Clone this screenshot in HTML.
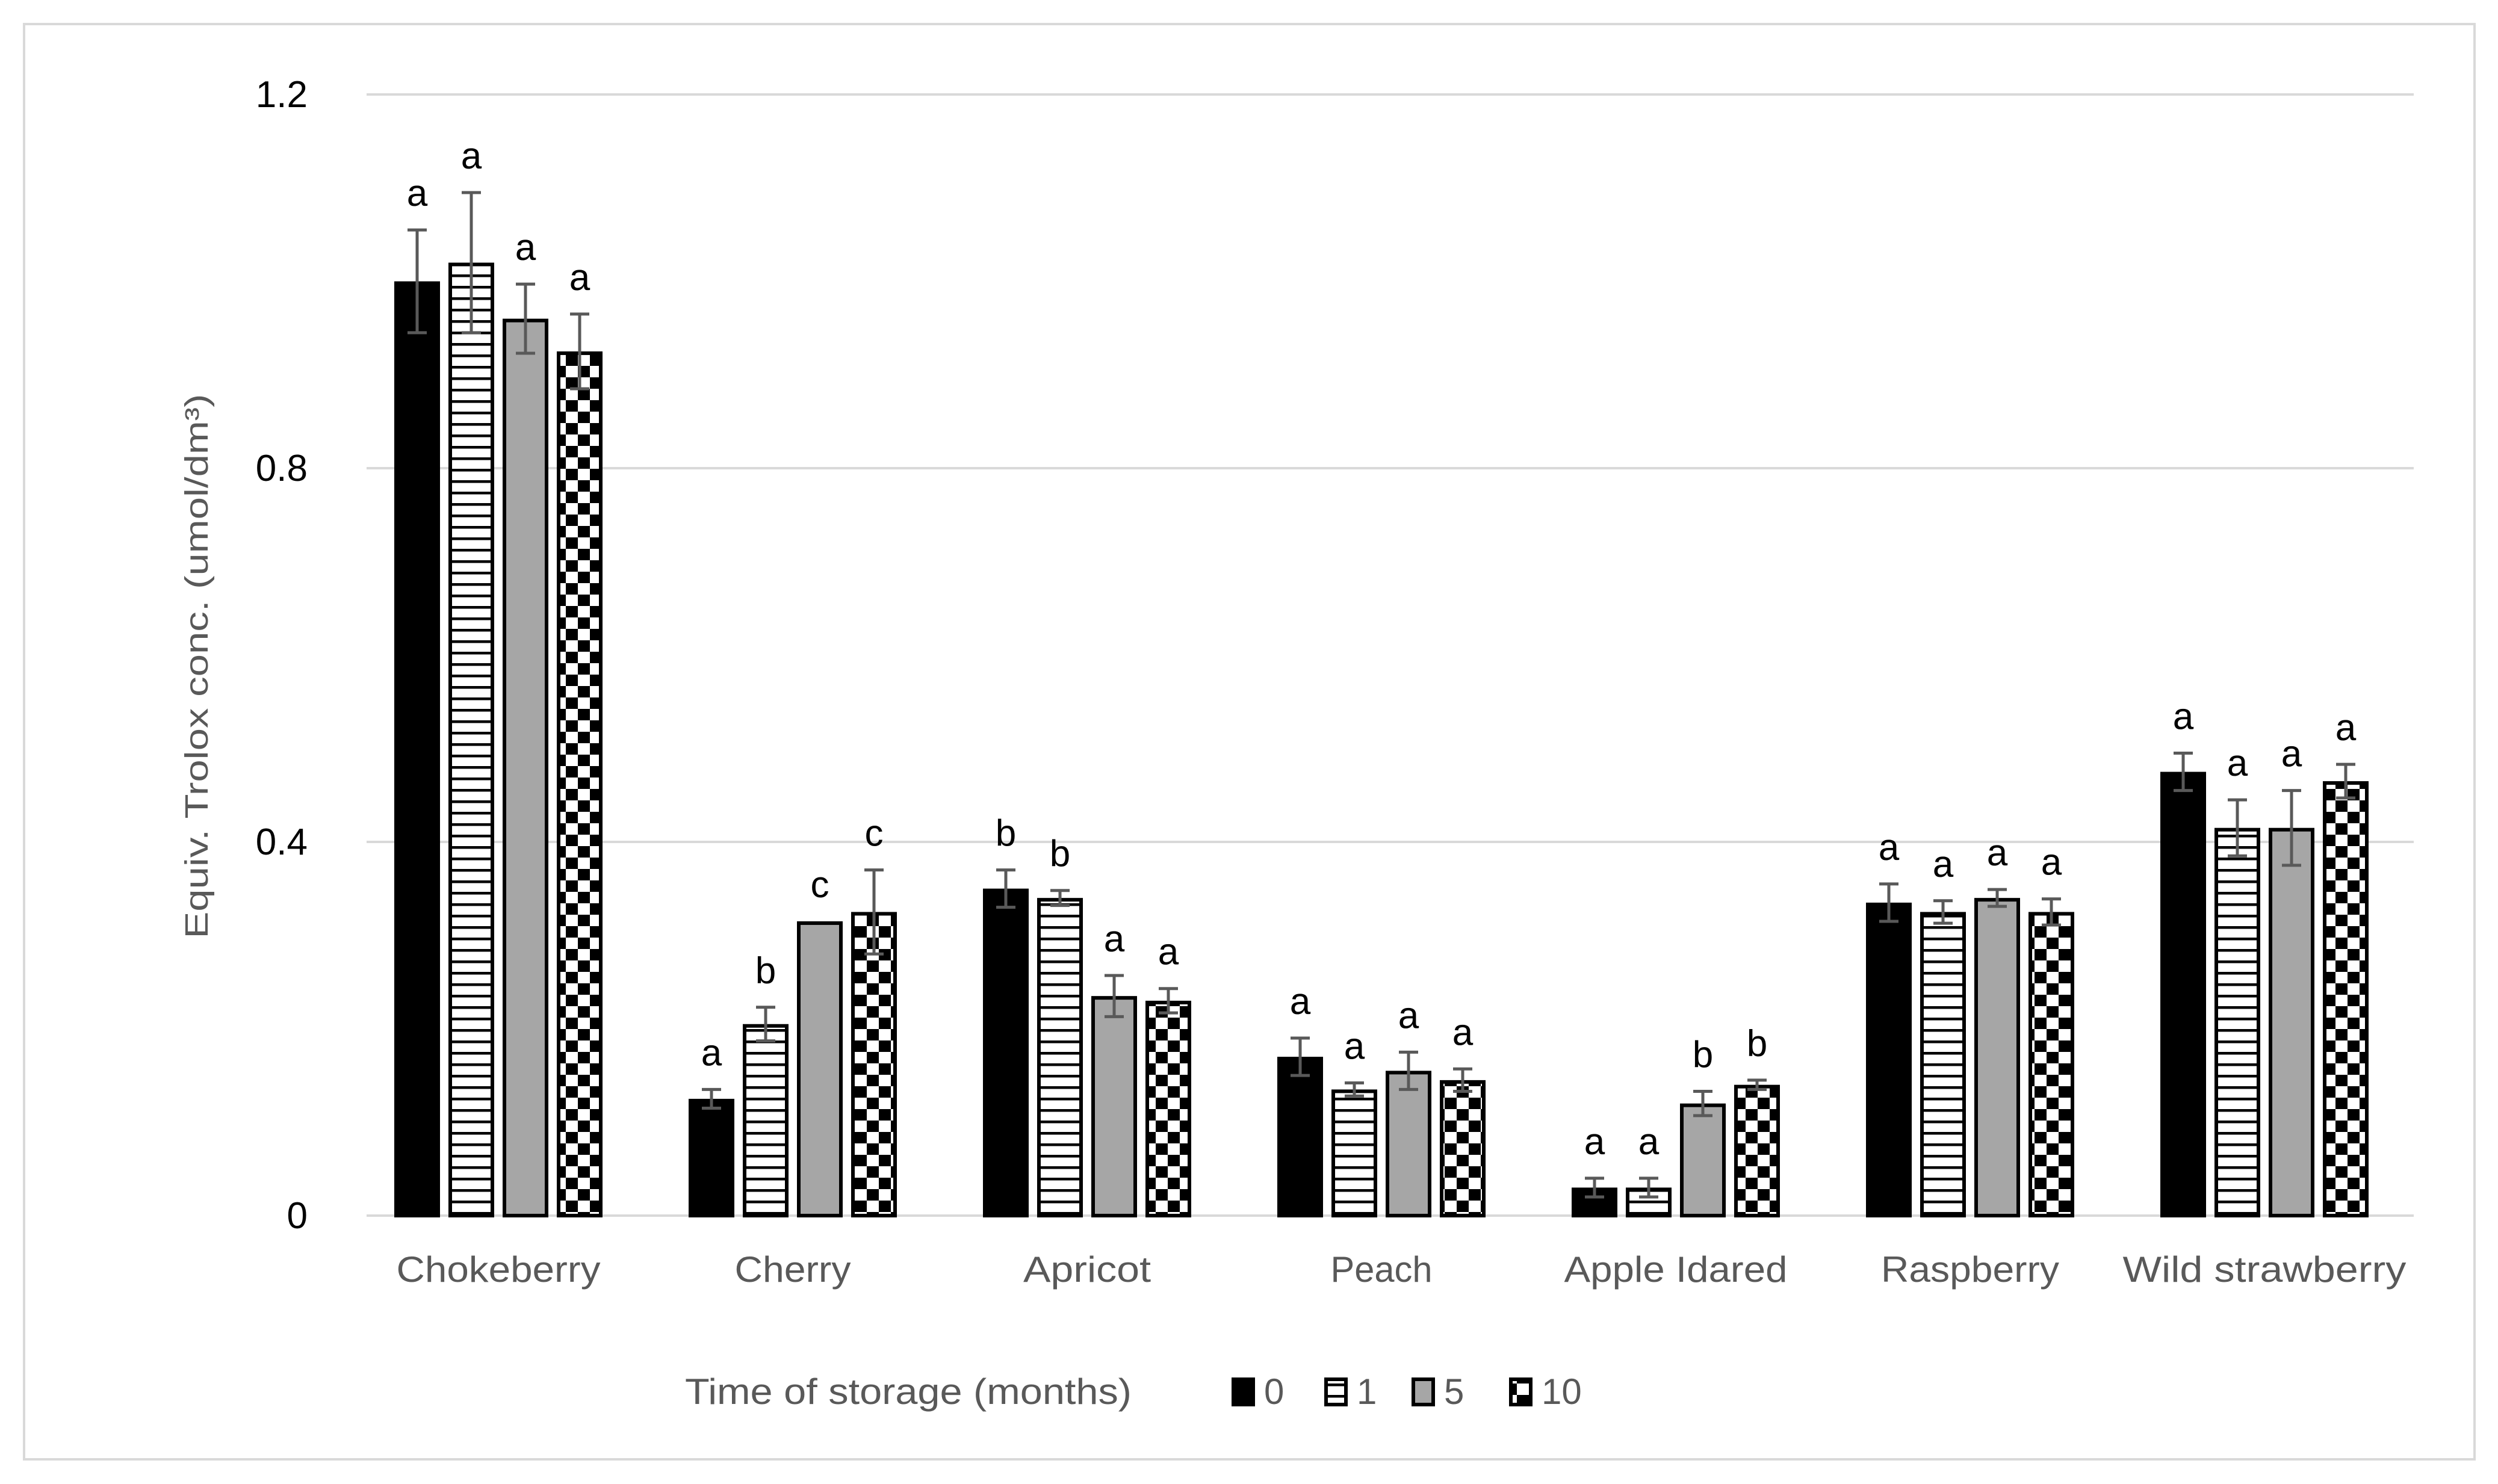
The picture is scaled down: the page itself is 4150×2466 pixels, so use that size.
<!DOCTYPE html>
<html><head><meta charset="utf-8"><style>
html,body{margin:0;padding:0;background:#fff;}
svg{display:block;}
text{font-family:"Liberation Sans",sans-serif;}
</style></head><body>
<svg id="chart" width="4150" height="2466" viewBox="0 0 4150 2466" xmlns="http://www.w3.org/2000/svg">
<defs>
<pattern id="hlines" patternUnits="userSpaceOnUse" width="20" height="19">
<rect width="20" height="19" fill="#fff"/><rect y="0" width="20" height="4.5" fill="#000"/>
</pattern>
<pattern id="checker" patternUnits="userSpaceOnUse" width="40" height="38">
<rect width="40" height="38" fill="#fff"/><rect x="0" y="0" width="20" height="19" fill="#000"/><rect x="20" y="19" width="20" height="19" fill="#000"/>
</pattern>
</defs>
<rect x="40" y="40" width="4071" height="2385" fill="#fff" stroke="#d9d9d9" stroke-width="4"/>
<g id="grid"></g>
<g id="bars"></g>
<text transform="translate(345,1107) rotate(-90)" text-anchor="middle" font-size="54" fill="#595959" textLength="905" lengthAdjust="spacingAndGlyphs">Equiv. Trolox conc. (umol/dm³)</text>
<text x="1138" y="2333" font-size="60" fill="#595959" textLength="742" lengthAdjust="spacingAndGlyphs">Time of storage (months)</text>
<g id="legend"></g>
</svg>
<script>
const categories = ["Chokeberry","Cherry","Apricot","Peach","Apple Idared","Raspberry","Wild strawberry"];
const seriesNames = ["0","1","5","10"];
const v0  = [1.00, 0.125, 0.35, 0.17, 0.03, 0.335, 0.475];
const v1  = [1.02, 0.205, 0.34, 0.135, 0.03, 0.325, 0.415];
const v5  = [0.96, 0.315, 0.235, 0.155, 0.12, 0.34, 0.415];
const v10 = [0.925, 0.325, 0.23, 0.145, 0.14, 0.325, 0.465];
const e0  = [0.055, 0.01, 0.02, 0.02, 0.01, 0.02, 0.02];
const e1  = [0.075, 0.018, 0.008, 0.007, 0.01, 0.012, 0.03];
const e5  = [0.037, 0.0, 0.022, 0.02, 0.013, 0.009, 0.04];
const e10 = [0.04, 0.045, 0.013, 0.012, 0.005, 0.014, 0.018];
const l0  = ["a","a","b","a","a","a","a"];
const l1  = ["a","b","b","a","a","a","a"];
const l5  = ["a","c","a","a","b","a","a"];
const l10 = ["a","c","a","a","b","a","a"];
const yTicks = [0, 0.4, 0.8, 1.2];
const yTickLabels = ["0","0.4","0.8","1.2"];
const catLabelWidths = [339,193,212,169,371,296,471];

const NS="http://www.w3.org/2000/svg";
const svg=document.getElementById('chart');
const Y0=2020, Y1=157, YMAX=1.2;
const y = v => Y0 - (v/YMAX)*(Y0-Y1);
const C0=828, CSTEP=489;
const xc = i => C0 + i*CSTEP;
const BW=76, BSTEP=90;
const xb = (i,s) => xc(i) - (4*BSTEP-(BSTEP-BW))/2 + s*BSTEP;
function mk(tag, attrs, parent){const el=document.createElementNS(NS,tag);for(const k in attrs)el.setAttribute(k,attrs[k]);parent.appendChild(el);return el;}

const grid=document.getElementById('grid');
yTicks.forEach((t,i)=>{
  const gl=mk('line',{x1:609,x2:4010,y1:y(t),y2:y(t),stroke:'#d9d9d9','stroke-width':4},grid);
  
  
  const tl=mk('text',{x:511,y:y(t)+21,'text-anchor':'end','font-size':62,fill:'#000'},grid);
  tl.textContent=yTickLabels[i];
  
  
});
categories.forEach((c,i)=>{
  const t=mk('text',{x:xc(i),y:2130,'text-anchor':'middle','font-size':60,fill:'#595959',textLength:catLabelWidths[i],lengthAdjust:'spacingAndGlyphs'},grid);
  t.textContent=c;
  
  
});

const vals=[v0,v1,v5,v10], errs=[e0,e1,e5,e10], lets=[l0,l1,l5,l10];
const fills=['#000','url(#hlines)','#a6a6a6','url(#checker)'];
const bars=document.getElementById('bars');
categories.forEach((c,i)=>{
  for(let s=0;s<4;s++){
    const v=vals[s][i], e=errs[s][i];
    const x=xb(i,s);
    const r=mk('rect',{x:x+3,y:y(v)+3,width:BW-6,height:Y0-y(v)-3,fill:fills[s],stroke:'#000','stroke-width':6},bars);
    
    
    const cx=x+BW/2;
    if(e>0){
      const g=mk('path',{d:`M${cx} ${y(v+e)}V${y(v-e)}M${cx-16} ${y(v+e)}H${cx+16}M${cx-16} ${y(v-e)}H${cx+16}`,stroke:'#595959','stroke-width':5,fill:'none'},bars);
      
      
    }
    const lt=mk('text',{x:cx,y:y(v+e)-40,'text-anchor':'middle','font-size':62,fill:'#000'},bars);
    lt.textContent=lets[s][i];
    
    
  }
});

const legend=document.getElementById('legend');
const lx=[2046,2200,2345,2507];
seriesNames.forEach((n,s)=>{
  const m=mk('rect',{x:lx[s]+3,y:2292,width:33,height:42,fill:fills[s],stroke:'#000','stroke-width':6},legend);
  
  
  const t=mk('text',{x:lx[s]+54,y:2333,'font-size':60,fill:'#595959'},legend);
  t.textContent=n;
  
  
});
</script>
</body></html>
